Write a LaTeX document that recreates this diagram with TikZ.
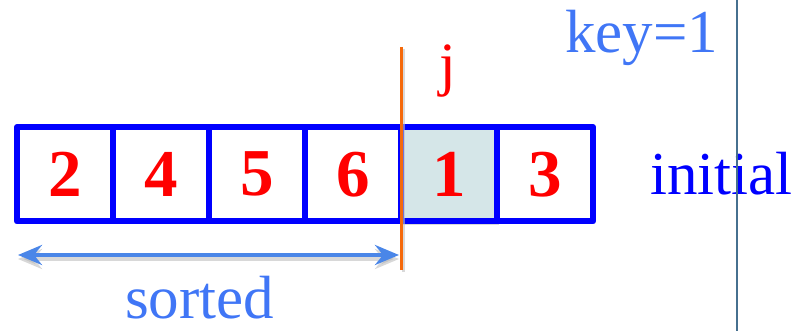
\documentclass[tikz,border=0pt]{standalone}
\usepackage{fontspec}
\setmainfont{Liberation Serif}
\usetikzlibrary{arrows.meta,shadows}
\definecolor{cellblue}{RGB}{0,0,255}
\definecolor{numred}{RGB}{255,0,0}
\definecolor{keyfill}{RGB}{213,230,232}
\definecolor{jorange}{RGB}{245,105,10}
\definecolor{lblue}{RGB}{64,118,246}
\definecolor{arrblue}{RGB}{74,134,232}
\definecolor{sepline}{RGB}{70,112,143}
\begin{document}
\begin{tikzpicture}[x=1pt,y=1pt,
  cellbox/.style={draw=cellblue, line width=6pt, line join=round, minimum width=96pt,
    minimum height=94.5pt, inner sep=0pt, fill=white,
    font=\fontsize{67}{70}\selectfont\bfseries, text=numred},
  lbl/.style={inner sep=0pt, anchor=base west, text depth=0pt, font=\fontsize{61}{70}\selectfont},
  >={Stealth[length=24pt,width=20pt,inset=8pt]}]
\useasboundingbox (0,0) rectangle (802,331);
% key cell first so its shadow sits under neighbours
\node[cellbox, fill=keyfill, drop shadow={shadow xshift=2pt, shadow yshift=-4pt, opacity=0.3}] (c5) at (449,156.75) {1};
\node[cellbox] (c1) at (65,156.75) {2};
\node[cellbox] (c2) at (161,156.75) {4};
\node[cellbox] (c3) at (257,156.75) {5};
\node[cellbox] (c4) at (353,156.75) {6};
\node[cellbox] (c6) at (545,156.75) {3};
% j marker
\coordinate (jt) at (401,284);
\coordinate (jb) at (401,61);
\draw[black!25, line width=3pt, opacity=0.6] ([xshift=2pt,yshift=-2pt]jt) -- ([xshift=2pt,yshift=-2pt]jb);
\draw[jorange, line width=3pt] (jt) -- (jb);
\node[inner sep=0pt, anchor=base, font=\fontsize{60}{70}\selectfont, text=numred] (j) at (448,246) {j};
% labels
\node[lbl, text=lblue] (key) at (565,278) {key=1};
\node[lbl, text=cellblue] (init) at (650,136) {initial};
% sorted arrow
\coordinate (sl) at (18,76);
\coordinate (sr) at (399,76);
\draw[black!30, line width=4pt, opacity=0.5, <->] ([yshift=-4pt]sl) -- ([yshift=-4pt]sr);
\draw[arrblue, line width=4pt, <->] (sl) -- (sr);
\node[lbl, text=lblue] (sorted) at (125,12) {sorted};
% separator line
\coordinate (vt) at (737,331);
\coordinate (vb) at (737,0);
\draw[sepline, line width=2pt] (vt) -- (vb);
\end{tikzpicture}
\end{document}
